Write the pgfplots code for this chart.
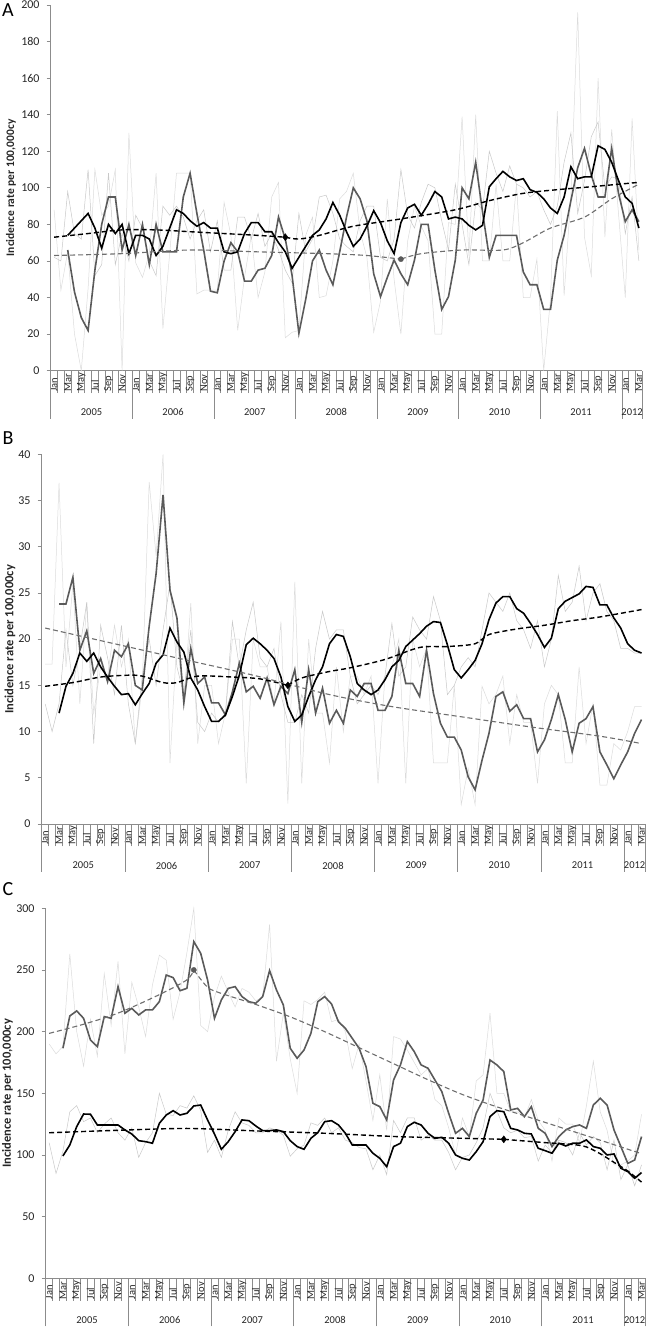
\documentclass[border=0pt]{standalone}
\usepackage{pgfplots}
\usepackage{pgfplotstable}
\pgfplotsset{compat=1.18}
\usepackage{fontspec}
\setmainfont{Carlito}
\definecolor{rawA}{HTML}{C8C8C8}
\definecolor{rawB}{HTML}{DBDBDB}
\definecolor{dg}{HTML}{5A5A5A}
\definecolor{gdash}{HTML}{6E6E6E}
\definecolor{axc}{HTML}{8C8C8C}
\definecolor{txt}{HTML}{262626}
\tikzset{yrlab/.style={font=\fontsize{10.5}{10.5}\selectfont, text=txt, yshift=-41.5pt}}

\pgfplotsset{
  panel/.style={
    scale only axis, clip=false,
    axis lines*=left,
    axis line style={draw=axc, line width=0.7pt},
    every tick/.style={draw=axc, line width=0.7pt},
    tick align=outside,
    xmin=-0.5, xmax=86.5, ymin=0,
    major tick length=0pt,
    minor tick length=22.5pt,
    xtick={0,2,...,86},
    xticklabels={Jan,Mar,May,Jul,Sep,Nov,Jan,Mar,May,Jul,Sep,Nov,Jan,Mar,May,Jul,Sep,Nov,Jan,Mar,May,Jul,Sep,Nov,Jan,Mar,May,Jul,Sep,Nov,Jan,Mar,May,Jul,Sep,Nov,Jan,Mar,May,Jul,Sep,Nov,Jan,Mar},
    xticklabel style={rotate=90, anchor=west, inner sep=0pt, text=txt, font=\fontsize{10.5}{10.5}\selectfont},
    xticklabel shift=21pt,
    minor xtick={-0.5,0.5,...,86.5},
    extra x ticks={-0.5,11.5,23.5,35.5,47.5,59.5,71.5,83.5,86.5},
    extra x tick labels={},
    extra x tick style={major tick length=48pt},
    yticklabel style={font=\fontsize{12}{12}\selectfont, inner sep=0pt, xshift=-11pt, text=txt},
    /pgf/number format/assume math mode=true,
    ylabel={Incidence rate per 100,000cy},
    ylabel style={font=\bfseries\fontsize{12.5}{12.5}\selectfont, anchor=center, text=txt},
    raw1/.style={rawA, line width=0.5pt},
    raw2/.style={rawB, line width=0.5pt},
  },
  ma1/.style={black, line width=1.6pt},
  ma2/.style={dg, line width=1.6pt},
  tr1/.style={black, line width=1.4pt, dash pattern=on 5pt off 3pt, smooth},
  tr2/.style={gdash, line width=1.1pt, dash pattern=on 5pt off 3pt, smooth},
}

\pgfplotstableread{
i r1 r2 m1 m2
0 62 88 nan nan
1 60 44 nan nan
2 98 65 74 66
3 75 20 78 43
4 72 0 82 29
5 110 45 86 22
6 52 110 78 55
7 58 85 67 80
8 108 90 80 95
9 58 110 75 95
10 75 0 80 66
11 60 130 64 80
12 85 59 74 63
13 78 51 74 80
14 60 64 72 58
15 52 108 63 80
16 90 23 68 65
17 85 64 78 65
18 90 108 88 65
19 84 108 86 95
20 72 108 82 108
21 82 42 79 86
22 88 44 81 66
23 65 44 78 43.5
24 82 44 78 42.6
25 55 92 65 60
26 55 74 64 70
27 84 22 65 65
28 84 51 75 49
29 72 74 81 49
30 86 40 81 55
31 68 54 76 56
32 75 95 76 63
33 66 103 70 84
34 55 18 65 72
35 48 21 56 52
36 86 22 62 20.4
37 65 74 68 39
38 72 84 74 60
39 95 40 77 66
40 96 41 83 55
41 86 60 92 47
42 72 94 85 65
43 68 98 76 84
44 65 108 68 100
45 82 76 72 94
46 90 62 79 82
47 90 21 87.5 53
48 62 38 81 40.5
49 60 94 71 51
50 72 50 64 60.5
51 110 20 81 53
52 85 71 89 47
53 78 90 91 60.5
54 92 79 85 80
55 102 71 91 80
56 100 20 98 55
57 82 20 95 33.5
58 66 81 83 40.5
59 102 80 84 60.5
60 80 139 83 100
61 58 63 79.5 94
62 92 140 77 114
63 88 60 79.5 87
64 120 60 100.6 62
65 108 102 105 74
66 98 60 109 74
67 112 60 106 74
68 102 102 104 74
69 100 40 105 54
70 95 40 99 47
71 98 61 97.5 47
72 88 0 94 33.5
73 80 39 89 33.5
74 90 142 86 60.5
75 114 41 95 74
76 130 96 111.5 93
77 86 196 105 111
78 104 73 106 121.6
79 128 52 106 107
80 136 160 123 95
81 100 73 121 95
82 106 132 114 121.6
83 105 86 104 97
84 75 40 95 81.5
85 95 138 91.5 88
86 60 66 78 81.5
}\tabA

\pgfplotstableread{
i r1 r2 m1 m2
0 13 17.3 nan nan
1 10 17.3 nan nan
2 13 36.9 12.0 23.8
3 21 17 14.9 23.8
4 15 26 16.3 26.7
5 19 13 18.5 18.8
6 24 23.9 17.6 20.9
7 8.7 12 18.5 16.3
8 21.5 17 17.0 17.9
9 18 16 15.9 15.4
10 14 21.5 14.9 18.8
11 21.5 17 14.0 18.1
12 13 20 14.1 19.5
13 8.7 8.7 12.9 15.0
14 16 15 14.1 14.5
15 20 37 15.2 21.4
16 15 29 17.4 27.1
17 21 40 18.3 35.6
18 26 6.6 21.2 25.3
19 17 20 19.7 22.3
20 14 13 18.6 13.1
21 21 23.9 15.8 19.0
22 11 8.7 14.5 15.2
23 10 15 12.7 15.9
24 12 15 11.1 13.1
25 11 8.7 11.1 13.1
26 12 12 11.8 11.8
27 21.9 20 13.8 14.3
28 17 20 16.1 17.4
29 21 4.4 19.4 14.3
30 24 20 20.1 14.9
31 18 17 19.5 13.6
32 17 17 18.8 15.8
33 19 13 17.9 12.9
34 14 21.9 15.9 14.9
35 11 2.2 12.7 14.1
36 11 26.2 11.1 16.7
37 14 4.4 11.8 11.0
38 12 20 13.8 16.7
39 19 12 15.6 12.0
40 23 12 17.0 14.7
41 20 6.6 19.5 10.9
42 21 17 20.5 12.3
43 21 10 20.3 10.9
44 16 16 18.1 14.5
45 13 16 15.2 13.8
46 14 14 14.5 15.2
47 15 16 14.0 15.2
48 14 4.4 14.5 12.3
49 16 16 15.6 12.3
50 21.7 17 17.0 13.8
51 16 20 17.7 18.8
52 17 4.4 19.2 15.2
53 22.4 20 19.9 15.2
54 21 17 20.6 13.8
55 20 19 21.4 18.8
56 24.6 6.6 21.9 14.1
57 22 6.6 21.8 10.9
58 14 6.6 19.4 9.4
59 15 15 16.7 9.4
60 17 2.1 15.8 8.0
61 18 6 16.7 5.1
62 17 2.1 17.7 3.7
63 21 14.9 19.5 6.9
64 25 13 22.1 9.8
65 24 14 23.9 13.8
66 23 16 24.6 14.3
67 25 8.7 24.6 12.2
68 22 14 23.3 12.9
69 21 11 22.8 11.4
70 19 11 21.7 11.4
71 22 4.4 20.5 7.8
72 17 13 19.1 9.1
73 20 15 20.1 11.3
74 26.9 14 23.3 14.0
75 23 6.6 24.1 11.3
76 24 6.6 24.5 7.8
77 27.9 17 24.9 10.9
78 22 8.7 25.7 11.4
79 25 13 25.6 12.7
80 26 4.2 23.7 7.8
81 23 4.2 23.7 6.4
82 22 8.7 22.3 4.9
83 19 8 21.2 6.4
84 19 10 19.5 7.8
85 18.5 12.7 18.8 9.8
86 18.5 12.7 18.5 11.3
}\tabB

\pgfplotstableread{
i r1 r2 m1 m2
0 110 190 nan nan
1 85 182 nan nan
2 103 188 99.2 186.5
3 135 263 108.1 212.7
4 140 200 123 216.8
5 127 172 133.2 210.8
6 130 210 133 193.2
7 118 180 124.3 187.8
8 125 247 124.3 212.2
9 130 205 124.3 210.8
10 118 257 124.3 236.5
11 112 182 120.3 214.9
12 122 240 117 218.9
13 98 220 111.6 213.5
14 110 196 110.8 217.6
15 118 238 109.5 217.6
16 150 262 125.7 224.3
17 133 258 132.4 245.9
18 132 210 135.9 243.8
19 140 232 132.4 233.2
20 138 264 133.8 235.1
21 148 300 139.7 273
22 136 205 140.5 263.5
23 102 200 128.4 241.9
24 112 228 117 210.8
25 98 245 104.6 225.7
26 120 232 110.8 235.1
27 135 220 118.9 236.5
28 126 235 128.4 228.4
29 124 232 127.8 224.3
30 118 225 123.5 223
31 118 228 119.7 228.4
32 122 287 119.7 249.5
33 120 176 120.3 233.8
34 116 215 118.9 221.6
35 99 178 111.6 186.5
36 105 150 106.8 178.4
37 108 225 104.6 185.1
38 126 222 113.5 198.6
39 124 226 118.1 224.3
40 130 232 127 228.4
41 118 208 127.8 222.4
42 122 210 124.3 208
43 112 200 117.6 202.7
44 110 170 108.1 194.6
45 106 190 108.1 186.5
46 105 160 108.1 171.6
47 88 128 101.4 141.9
48 100 165 97.3 139.2
49 84 120 90.5 128.4
50 128 196 106.8 160.8
51 118 194 109.5 173
52 130 185 123 191.9
53 130 175 126.5 183.8
54 112 165 124.3 173
55 116 170 117.6 170.3
56 112 145 113.5 160.8
57 112 140 114.3 151.4
58 102 122 109.5 133.8
59 88 100 100 117.6
60 98 130 97.3 121.6
61 100 115 95.9 114.9
62 110 160 102.7 133.8
63 122 165 110.8 144.6
64 150 215 131.1 177
65 136 150 135.9 173
66 122 150 135.1 167.6
67 118 135 121.6 136.5
68 120 135 120.3 137.8
69 114 130 117.6 131.1
70 115 145 117 139.2
71 95 128 105.4 121.6
72 108 120 103.5 117.6
73 102 95 101.4 106.8
74 112 130 109.5 114.9
75 110 125 107.3 120.3
76 100 125 109.5 123
77 118 110 109.5 124.3
78 108 140 112.2 121.6
79 115 176 106.8 140.5
80 110 135 105.4 146
81 88 120 100 140.5
82 112 92 100.8 120.3
83 80 92 89.2 106.8
84 92 95 86.5 93.2
85 75 100 81.1 95.9
86 92 133 85.7 114.9
}\tabC

\begin{document}
\begin{tikzpicture}
% ---------------- Panel A
\begin{axis}[panel, name=pa, at={(50.7pt,957.3pt)}, anchor=south west,
  width=591.6pt, height=365.7pt, ymax=200,
  ytick={0,20,...,200}, extra y ticks={0,20,...,200}, extra y tick labels={},
  extra y tick style={major tick length=4pt},
  ylabel style={at={(axis description cs:-0.067,0.5)}, font=\bfseries\fontsize{11.5}{11.5}\selectfont}]
\addplot[raw2] table[x=i,y=r2]{\tabA};
\addplot[raw1] table[x=i,y=r1]{\tabA};
\addplot[ma2] table[x=i,y=m2]{\tabA};
\addplot[ma1] table[x=i,y=m1]{\tabA};
\addplot[tr1] coordinates {(0,73)(5,75)(10,77)(15,77)(20,76)(25,75)(30,74)(34,73)};
\addplot[tr1] coordinates {(34,73)(36,72)(39,74)(44,79)(51,83)(59,88)(64,93)(69,97)(74,99)(79,100.6)(86,103)};
\addplot[tr2] coordinates {(0,63)(10,64)(20,66)(30,65)(40,64)(46,63)(51,61)};
\addplot[tr2] coordinates {(51,61)(54,64)(60,66)(66,66)(69,70)(73,78)(78,84)(82,94)(86,102)};
\addplot[only marks, mark=diamond*, mark size=3.5pt, black] coordinates {(34,73)};
\addplot[only marks, mark=*, mark size=2.6pt, dg] coordinates {(51,61)};
\node[yrlab] at (axis cs:5.5,0) {2005};
\node[yrlab] at (axis cs:17.5,0) {2006};
\node[yrlab] at (axis cs:29.5,0) {2007};
\node[yrlab] at (axis cs:41.5,0) {2008};
\node[yrlab] at (axis cs:53.5,0) {2009};
\node[yrlab] at (axis cs:65.5,0) {2010};
\node[yrlab] at (axis cs:77.5,0) {2011};
\node[yrlab] at (axis cs:85,0) {2012};
\end{axis}

% ---------------- Panel B
\begin{axis}[panel, name=pb, at={(41.7pt,504pt)}, anchor=south west,
  width=603.3pt, height=369.7pt, ymax=40,
  ytick={0,5,...,40}, extra y ticks={0,5,...,40}, extra y tick labels={},
  extra y tick style={major tick length=4pt},
  ylabel style={at={(axis description cs:-0.0525,0.5)}}]
\addplot[raw2] table[x=i,y=r2]{\tabB};
\addplot[raw1] table[x=i,y=r1]{\tabB};
\addplot[ma2] table[x=i,y=m2]{\tabB};
\addplot[ma1] table[x=i,y=m1]{\tabB};
\addplot[tr1] coordinates {(0,14.9)(4,15.3)(8,15.9)(12,16.1)(14,16.0)(17,15.3)(19,15.3)(22,16.0)(27,15.9)(31,15.7)(35,15.0)};
\addplot[tr1] coordinates {(35,15.0)(37,15.8)(41,16.5)(44,16.9)(49,17.8)(54,19.1)(58,19.2)(62,19.5)(64,20.5)(68,21.1)(72,21.5)(76,22.0)(80,22.4)(86,23.2)};
\addplot[tr2] coordinates {(0,21.2)(10,19.5)(20,17.8)(30,16.1)(41,14.0)(50,12.7)(60,11.6)(70,10.5)(80,9.5)(86,8.7)};
\addplot[only marks, mark=diamond*, mark size=3.5pt, black] coordinates {(35,15.0)};
\node[yrlab] at (axis cs:5.5,0) {2005};
\node[yrlab] at (axis cs:17.5,0) {2006};
\node[yrlab] at (axis cs:29.5,0) {2007};
\node[yrlab] at (axis cs:41.5,0) {2008};
\node[yrlab] at (axis cs:53.5,0) {2009};
\node[yrlab] at (axis cs:65.5,0) {2010};
\node[yrlab] at (axis cs:77.5,0) {2011};
\node[yrlab] at (axis cs:85,0) {2012};
\end{axis}

% ---------------- Panel C
\begin{axis}[panel, name=pc, at={(45.7pt,49.7pt)}, anchor=south west,
  width=599.3pt, height=370pt, ymax=300,
  ytick={0,50,...,300}, extra y ticks={0,50,...,300}, extra y tick labels={},
  extra y tick style={major tick length=4pt},
  ylabel style={at={(axis description cs:-0.0637,0.5)}}]
\addplot[raw2] table[x=i,y=r2]{\tabC};
\addplot[raw1] table[x=i,y=r1]{\tabC};
\addplot[ma2] table[x=i,y=m2]{\tabC};
\addplot[ma1] table[x=i,y=m1]{\tabC};
\addplot[tr1] coordinates {(0,118)(10,120)(20,121.5)(30,119.5)(40,117.6)(50,115)(58,113.8)(66,112.7)};
\addplot[tr1] coordinates {(66,112.7)(72,110)(76,108.5)(78,106.5)(80,101)(82,94)(84,87)(86,78)};
\addplot[tr2] coordinates {(0,198.6)(5,206)(10,215)(16,230)(20,242)(21,250)};
\addplot[tr2] coordinates {(21,250)(23,236)(25,231)(30,222)(35,212)(40,200)(45,187)(50,174)(55,161)(60,149)(65,139)(70,130)(75,121)(80,112)(86,101)};
\addplot[only marks, mark=*, mark size=2.6pt, dg] coordinates {(21,250)};
\addplot[only marks, mark=diamond*, mark size=3.5pt, black] coordinates {(66,112.7)};
\node[yrlab] at (axis cs:5.5,0) {2005};
\node[yrlab] at (axis cs:17.5,0) {2006};
\node[yrlab] at (axis cs:29.5,0) {2007};
\node[yrlab] at (axis cs:41.5,0) {2008};
\node[yrlab] at (axis cs:53.5,0) {2009};
\node[yrlab] at (axis cs:65.5,0) {2010};
\node[yrlab] at (axis cs:77.5,0) {2011};
\node[yrlab] at (axis cs:85,0) {2012};
\end{axis}

\node[font=\fontsize{20}{20}\selectfont, text=black] at (8pt,1318pt) {A};
\node[font=\fontsize{20}{20}\selectfont, text=black] at (8pt,890pt) {B};
\node[font=\fontsize{20}{20}\selectfont, text=black] at (8pt,439pt) {C};
\pgfresetboundingbox
\path[use as bounding box] (0pt,0pt) rectangle (647pt,1328pt);
\end{tikzpicture}
\end{document}
